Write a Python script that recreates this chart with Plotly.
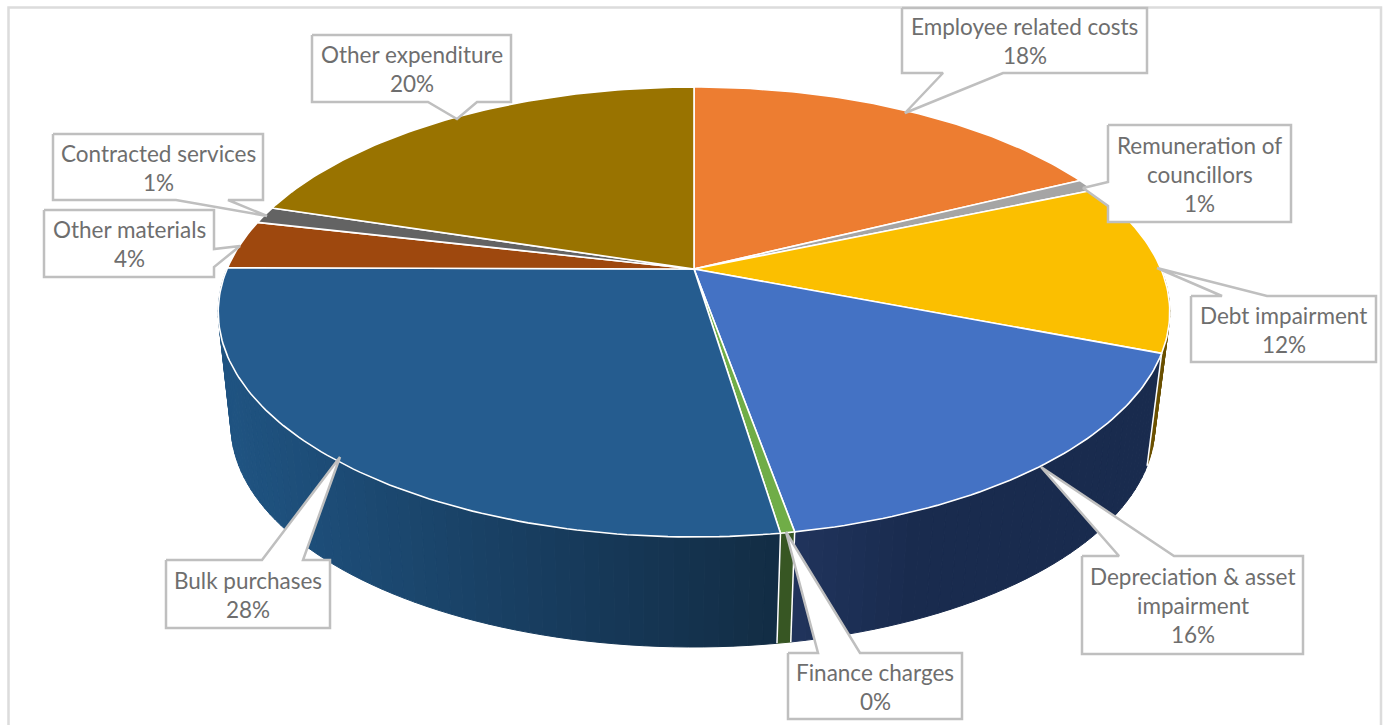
import numpy as np
import plotly.graph_objects as go

# Expenditure shares, clockwise from twelve o'clock
categories = ["Employee related costs", "Remuneration of councillors", "Debt impairment",
              "Depreciation & asset impairment", "Finance charges", "Bulk purchases",
              "Other materials", "Contracted services", "Other expenditure"]
shares = [17.7, 0.9, 12.3, 16.3, 0.4, 27.5, 3.5, 1.2, 20.2]

top_colors = ["#ED7D31", "#A5A5A5", "#FBBF00", "#4472C4", "#70AD47", "#255C8F", "#9E480E", "#636363", "#997300"]
wall_left = ["#8C4A1D", "#626262", "#7A5C00", "#20335C", "#375623", "#1F5381", "#5E2A08", "#3B3B3B", "#5B4400"]
wall_right = ["#8C4A1D", "#626262", "#6B5000", "#192B4E", "#375623", "#122C44", "#5E2A08", "#3B3B3B", "#5B4400"]

# Label text wrapping
label_lines = [["Employee related costs"], ["Remuneration of", "councillors"], ["Debt impairment"],
               ["Depreciation & asset", "impairment"], ["Finance charges"], ["Bulk purchases"],
               ["Other materials"], ["Contracted services"], ["Other expenditure"]]

# Callout geometry in screen units: box (x0, x1, y0, y1), pointer base points, pointer tip
callouts = [
    ((902, 1147, 8, 73), "bottom", (1003, 943), (905, 113)),
    ((1108, 1291, 125, 222), "left", (206, 182), (1083, 188)),
    ((1191, 1376, 296, 362), "top", (1222, 1267), (1157, 268)),
    ((1082, 1303, 556, 654), "top", (1119, 1174), (1041, 467)),
    ((788, 962, 653, 719), "top", (818, 860), (786, 532)),
    ((166, 330, 560, 628), "top", (262, 303), (340, 457)),
    ((44, 214, 210, 277), "right", (249, 267), (240, 246)),
    ((53, 263, 134, 200), "bottom", (228, 176), (267, 216)),
    ((312, 511, 35, 102), "bottom", (477, 428), (457, 119)),
]

# Perspective projection of a unit disc lying in a tilted plane
TILT = 0.191


def project(theta, cx, cy, ax, by):
    sx, sy = np.sin(theta), np.cos(theta)
    w = 1 + TILT * sy
    return cx + ax * sx / w, cy - by * sy / w


def top_rim(theta):
    return project(theta, 694, 269, 467, 216.8)


def bottom_rim(theta):
    return project(theta, 693, 382.6, 453.5, 213.9)


def mix(c0, c1, f):
    a = [int(c0[i:i + 2], 16) for i in (1, 3, 5)]
    b = [int(c1[i:i + 2], 16) for i in (1, 3, 5)]
    return "rgb(%d,%d,%d)" % tuple(round(p + (q - p) * f) for p, q in zip(a, b))


def poly(xs, ys, fill, line=None, width=1.0):
    return go.Scatter(x=list(xs), y=list(ys), mode="lines", fill="toself", fillcolor=fill,
                      line=dict(color=line or fill, width=width), hoverinfo="skip", showlegend=False)


edges = np.concatenate([[0], np.cumsum(shares)]) / sum(shares) * 2 * np.pi
fig = go.Figure()

# Side wall, drawn first so the top face covers its upper edge
for i, (a, b) in enumerate(zip(edges[:-1], edges[1:])):
    lo, hi = max(a, np.pi / 2), min(b, 1.5 * np.pi)
    if hi <= lo:
        continue
    n = max(1, int((hi - lo) / np.radians(1.5)))
    steps = np.linspace(lo, hi, n + 1)
    span = bottom_rim(np.array([lo, hi]))[0]
    for j in range(n):
        t = np.linspace(steps[j], steps[j + 1], 3)
        x0, y0 = top_rim(t)
        x1, y1 = bottom_rim(t[::-1])
        # Shading runs left to right across the screen; the blue section settles quickly
        pos = (x1.mean() - span.min()) / max(span.max() - span.min(), 1)
        if i == 3:
            pos = pos * 3
        pos = float(np.clip(pos, 0, 1))
        fig.add_trace(poly(np.r_[x0, x1, x0[0]], np.r_[y0, y1, y0[0]], mix(wall_left[i], wall_right[i], pos)))
    # Seam between neighbouring wall sections
    xa, ya = top_rim(np.array([lo]))
    xb, yb = bottom_rim(np.array([lo]))
    if lo > np.pi / 2 + 0.3:
        fig.add_trace(go.Scatter(x=[xa[0], xb[0]], y=[ya[0], yb[0]], mode="lines",
                                 line=dict(color="#FFFFFF", width=1.5), hoverinfo="skip", showlegend=False))

# Top face wedges
for i, (a, b) in enumerate(zip(edges[:-1], edges[1:])):
    t = np.linspace(a, b, max(3, int(np.degrees(b - a))))
    xs, ys = top_rim(t)
    cx, cy = 694, 269
    fig.add_trace(poly(np.r_[cx, xs, cx], np.r_[cy, ys, cy], top_colors[i], "#FFFFFF", 1.6))

# Callouts: white box with a pointer, outlined as one shape
for box, side, base, tip in callouts:
    x0, x1, y0, y1 = box
    if side == "bottom":
        px = [x0, x1, x1, base[0], tip[0], base[1], x0, x0]
        py = [y0, y0, y1, y1, tip[1], y1, y1, y0]
    elif side == "top":
        px = [x0, base[0], tip[0], base[1], x1, x1, x0, x0]
        py = [y0, y0, tip[1], y0, y0, y1, y1, y0]
    elif side == "left":
        px = [x0, x1, x1, x0, x0, tip[0], x0, x0]
        py = [y0, y0, y1, y1, base[0], tip[1], base[1], y0]
    else:
        px = [x0, x1, x1, tip[0], x1, x1, x0, x0]
        py = [y0, y0, base[0], tip[1], base[1], y1, y1, y0]
    fig.add_trace(poly(px, py, "#FFFFFF", "#BFBFBF", 2.5))

# Label text: one annotation per line keeps the line pitch fixed
annotations = []
for name_lines, share, (box, _, _, _) in zip(label_lines, shares, callouts):
    lines = name_lines + [f"{share:.0f}%"]
    mid = (box[2] + box[3]) / 2 + 0.7
    for k, line in enumerate(lines):
        annotations.append(dict(x=(box[0] + box[1]) / 2, y=mid + (k - (len(lines) - 1) / 2) * 29,
                                xref="x", yref="y", text=line, showarrow=False,
                                xanchor="center", yanchor="middle",
                                font=dict(family="Lato", size=22.5, color="#6E6E6E")))

fig.update_layout(
    width=1385, height=725, margin=dict(l=0, r=0, t=0, b=0),
    paper_bgcolor="#FFFFFF", plot_bgcolor="#FFFFFF", showlegend=False,
    xaxis=dict(range=[0, 1385], visible=False, fixedrange=True),
    yaxis=dict(range=[725, 0], visible=False, fixedrange=True),
    annotations=annotations,
    shapes=[dict(type="path", path="M 8.5 725 L 8.5 7.5 L 1381 7.5 L 1381 725", xref="x", yref="y",
                 line=dict(color="#DCDCDC", width=2.5), layer="below")],
)
fig.write_html("out.html")
